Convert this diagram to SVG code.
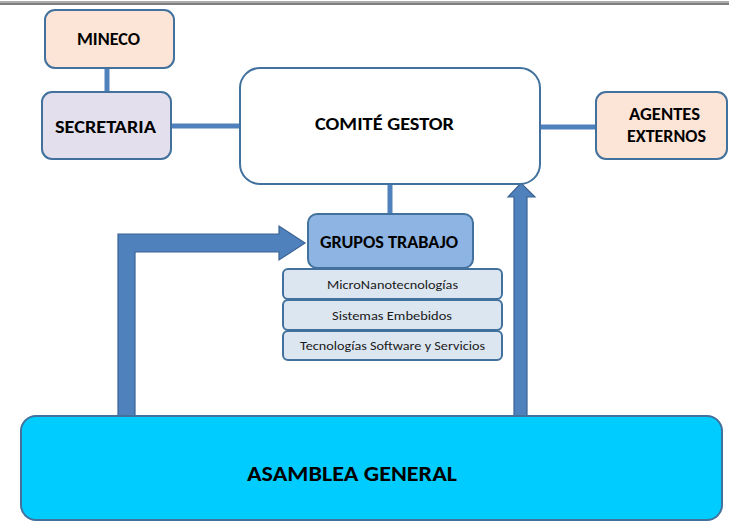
<svg xmlns="http://www.w3.org/2000/svg" width="729" height="521" viewBox="0 0 729 521">
<style>
.box{stroke:#41719C;stroke-width:2}
.peach{fill:#FCE4D6}
.lav{fill:#E4DFEC}
.wht{fill:#FFFFFF}
.grp{fill:#8DB4E2}
.sub{fill:#DCE6F1}
.asm{fill:#00CCFF}
.conn{stroke:#4F81BD;stroke-width:5;fill:none}
.arrow{fill:#4F81BD;stroke:#3A6394;stroke-width:1.2}
.t{font-family:Calibri,Carlito,"Liberation Sans",sans-serif;font-weight:bold;fill:#000;text-anchor:middle}
.s{font-family:Calibri,Carlito,"Liberation Sans",sans-serif;fill:#1a1a1a;text-anchor:middle;font-size:13px}
</style>
<rect x="0" y="1" width="729" height="1.5" fill="#B0B0B0"/>
<rect x="0" y="2.5" width="729" height="2.5" fill="#7F7F7F"/>
<g id="connectors">
<line class="conn" x1="107" y1="68" x2="107" y2="92"/>
<line class="conn" x1="171" y1="126" x2="240" y2="126"/>
<line class="conn" x1="540" y1="127" x2="596" y2="127"/>
<line class="conn" x1="390" y1="184" x2="390" y2="214"/>
<path class="arrow" d="M118,416 L118,234 L279,234 L279,226 L305,243 L279,260 L279,252 L135,252 L135,416 Z"/>
<path class="arrow" d="M514,416 L514,197 L508,197 L521,183 L535,197 L527,197 L527,416 Z"/>
</g>
<g id="mineco">
<rect class="box peach" x="45" y="10" width="129" height="58" rx="10"/>
<text class="t" x="108.5" y="45" font-size="17" textLength="63" lengthAdjust="spacingAndGlyphs">MINECO</text>
</g>
<g id="secretaria">
<rect class="box lav" x="42" y="92" width="129" height="67" rx="10"/>
<text class="t" x="105.5" y="133" font-size="18" textLength="101" lengthAdjust="spacingAndGlyphs">SECRETARIA</text>
</g>
<g id="comite">
<rect class="box wht" x="240" y="68" width="300" height="116" rx="20"/>
<text class="t" x="384.5" y="130" font-size="18.5" textLength="139" lengthAdjust="spacingAndGlyphs">COMITÉ GESTOR</text>
</g>
<g id="agentes">
<rect class="box peach" x="596" y="92" width="131" height="67" rx="10"/>
<text class="t" x="664.5" y="120" font-size="17" textLength="71" lengthAdjust="spacingAndGlyphs">AGENTES</text>
<text class="t" x="666.5" y="142" font-size="17" textLength="79" lengthAdjust="spacingAndGlyphs">EXTERNOS</text>
</g>
<g id="grupos">
<rect class="box grp" x="308" y="214" width="165" height="54" rx="9"/>
<text class="t" x="389" y="248" font-size="17" textLength="138" lengthAdjust="spacingAndGlyphs">GRUPOS TRABAJO</text>
</g>
<g id="micro">
<rect class="box sub" x="283" y="269" width="219" height="30" rx="5"/>
<text class="s" x="392.5" y="288.5" textLength="131" lengthAdjust="spacingAndGlyphs">MicroNanotecnologías</text>
</g>
<g id="sistemas">
<rect class="box sub" x="283" y="300" width="219" height="30" rx="5"/>
<text class="s" x="392" y="319.5" textLength="120" lengthAdjust="spacingAndGlyphs">Sistemas Embebidos</text>
</g>
<g id="tecnologias">
<rect class="box sub" x="283" y="331" width="219" height="29" rx="5"/>
<text class="s" x="392.5" y="349.5" textLength="185" lengthAdjust="spacingAndGlyphs">Tecnologías Software y Servicios</text>
</g>
<g id="asamblea">
<rect class="box asm" x="21" y="416" width="701" height="104" rx="15"/>
<text class="t" x="352" y="481" font-size="22" textLength="210" lengthAdjust="spacingAndGlyphs">ASAMBLEA GENERAL</text>
</g>
</svg>
